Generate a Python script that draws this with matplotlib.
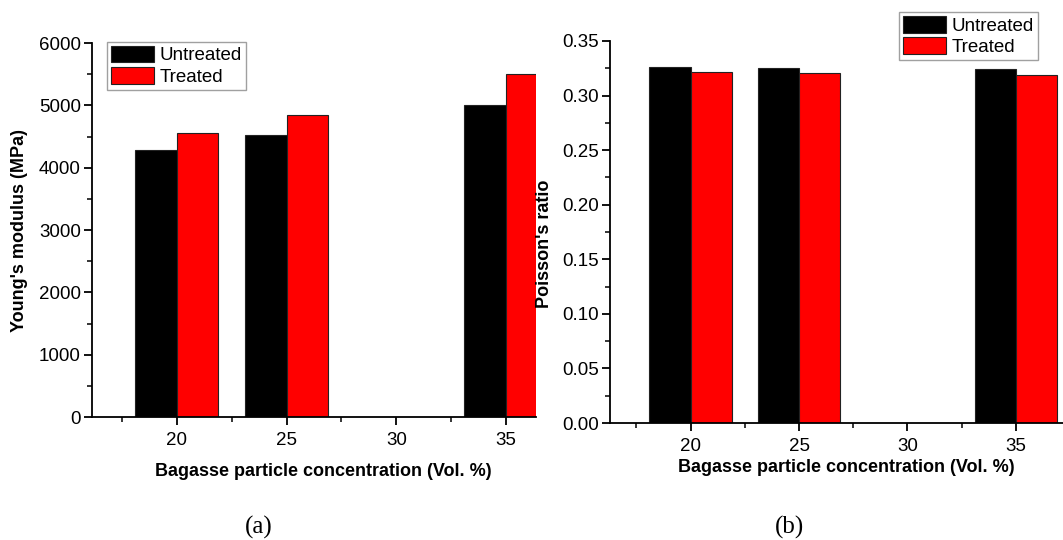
import numpy as np
import matplotlib
matplotlib.use("Agg")
import matplotlib.pyplot as plt
from matplotlib.ticker import MultipleLocator, FormatStrFormatter

plt.rcParams['font.family'] = ['Liberation Sans', 'DejaVu Sans']

# bagasse particle concentration (vol. %)
conc = np.array([20, 25, 30, 35])

# Young's modulus (MPa), no samples at 30 %
E_untreated = [4290, 4520, 0, 5010]
E_treated = [4560, 4850, 0, 5500]

# Poisson's ratio
nu_untreated = [0.326, 0.325, 0, 0.324]
nu_treated = [0.322, 0.321, 0, 0.319]

W, H = 1063, 540
bw = 1.9  # bar width in x units

fig = plt.figure(figsize=(W / 100, H / 100), dpi=100)


def px_axes(x0, y0, x1, y1):
    # axes placed from pixel corners (top-left origin)
    return fig.add_axes([x0 / W, 1 - y1 / H, (x1 - x0) / W, (y1 - y0) / H])


def style(ax):
    for s in ['top', 'right']:
        ax.spines[s].set_visible(False)
    for s in ['left', 'bottom']:
        ax.spines[s].set_linewidth(1.3)
    ax.xaxis.set_major_locator(MultipleLocator(5))
    ax.xaxis.set_minor_locator(MultipleLocator(2.5))
    ax.tick_params(which='major', direction='out', length=6, width=1.3, labelsize=13.5)
    ax.tick_params(which='minor', direction='out', length=3.5, width=1.1)
    ax.tick_params(axis='x', which='major', pad=5)
    ax.tick_params(axis='y', which='major', pad=2)


def bars(ax, a, b):
    ax.bar(conc - bw / 2, a, width=bw, color='black', edgecolor='#222222', linewidth=0.8, label='Untreated')
    ax.bar(conc + bw / 2, b, width=bw, color='#ff0000', edgecolor='#222222', linewidth=0.8, label='Treated')


def legend(ax, anchor):
    leg = ax.legend(loc='upper left', bbox_to_anchor=anchor, fontsize=13.5,
                    frameon=True, fancybox=False, edgecolor='#888888', handlelength=2.3,
                    handleheight=1.0, handletextpad=0.3, borderpad=0.2, labelspacing=0.15,
                    borderaxespad=0)
    leg.get_frame().set_linewidth(1.0)


xlab = "Bagasse particle concentration (Vol. %)"

# (a) Young's modulus
ax1 = px_axes(92, 43, 536, 417)
bars(ax1, E_untreated, E_treated)
ax1.set_xlim(16.14, 36.36)
ax1.set_ylim(0, 6000)
ax1.yaxis.set_major_locator(MultipleLocator(1000))
ax1.yaxis.set_minor_locator(MultipleLocator(500))
style(ax1)
ax1.set_ylabel("Young's modulus (MPa)", fontsize=13, fontweight='bold')
ax1.yaxis.set_label_coords(-(92 - 28) / 444, 0.5)
ax1.set_xlabel(xlab, fontsize=13, fontweight='bold')
ax1.xaxis.set_label_coords((323 - 92) / 444, -(463 - 417) / 374)
legend(ax1, ((107 - 92) / 444, 1.003))

# (b) Poisson's ratio
ax2 = px_axes(610, 41, 1063, 423)
bars(ax2, nu_untreated, nu_treated)
ax2.set_xlim(16.28, 37.18)
ax2.set_ylim(0, 0.35)
ax2.yaxis.set_major_locator(MultipleLocator(0.05))
ax2.yaxis.set_minor_locator(MultipleLocator(0.025))
ax2.yaxis.set_major_formatter(FormatStrFormatter('%.2f'))
style(ax2)
ax2.set_ylabel("Poisson's ratio", fontsize=13, fontweight='bold')
ax2.yaxis.set_label_coords(-(610 - 553) / 453, 0.47)
ax2.set_xlabel(xlab, fontsize=13, fontweight='bold')
ax2.xaxis.set_label_coords((846 - 610) / 453, -(459 - 423) / 382)
legend(ax2, ((899 - 610) / 453, 1 + (41 - 12) / 382))

# panel captions
fig.text(259 / W, 1 - 527 / H, "(a)", fontsize=18, family='Liberation Serif', ha='center', va='center')
fig.text(789 / W, 1 - 527 / H, "(b)", fontsize=18, family='Liberation Serif', ha='center', va='center')

fig.savefig("out.png", dpi=100)
